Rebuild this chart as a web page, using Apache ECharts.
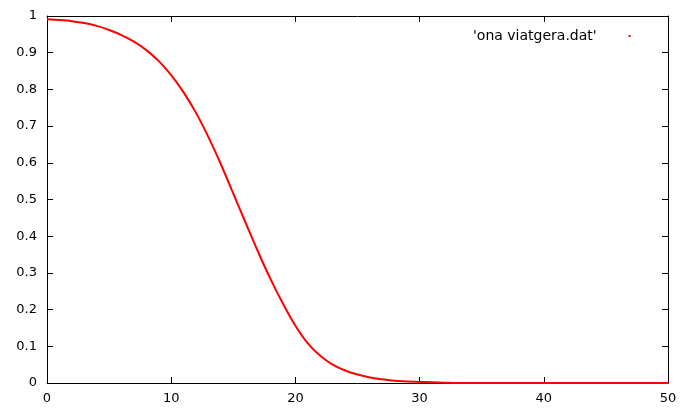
<!DOCTYPE html>
<html>
<head>
<meta charset="utf-8">
<script src="https://cdn.jsdelivr.net/npm/echarts@6/dist/echarts.min.js"></script>
<style>html,body{margin:0;padding:0;background:#fff}#c{width:682px;height:414px}</style>
</head>
<body>
<div id="c"></div>
<script>
var seriesName = "'ona viatgera.dat'";
var xs = [0,1,2,3,4,5,6,7,8,9,10,11,12,13,14,15,16,17,18,19,20,21,22,23,24,25,26,27,28,29,30,31,32,33,34,35,36,37,38,39,40,41,42,43,44,45,46,47,48,49,50];
var ys = [0.991,0.989,0.986,0.981,0.973,0.962,0.948,0.930,0.907,0.877,0.839,0.792,0.736,0.670,0.596,0.516,0.436,0.357,0.283,0.216,0.156,0.108,0.074,0.050,0.034,0.023,0.015,0.010,0.006,0.004,0.003,0.002,0.001,0,0,0,0,0,0,0,0,0,0,0,0,0,0,0,0,0,0];
var xTicks = [0,10,20,30,40,50];
var yTicks = [0,0.1,0.2,0.3,0.4,0.5,0.6,0.7,0.8,0.9,1];

var pts = xs.map(function(x,i){return [x, ys[i]];});
var font = 'DejaVu Sans';
function mk(extra){
  var base = {
    axisLine:{show:true, onZero:false, lineStyle:{color:'#000', width:1}},
    axisTick:{show:true, inside:true, length:6, lineStyle:{color:'#000', width:1}},
    splitLine:{show:false}
  };
  return Object.assign(base, extra);
}

var chart = echarts.init(document.getElementById('c'), null, {renderer:'canvas'});
chart.setOption({
  animation:false,
  backgroundColor:'#fff',
  grid:{left:47, right:14, top:16, bottom:31, show:false},
  legend:{
    show:true, data:[seriesName], left:468, top:24, align:'right',
    itemWidth:2, itemHeight:2, icon:'rect',
    textStyle:{fontFamily:font, fontSize:14, color:'#000', padding:[0,27,0,0]}
  },
  xAxis:[
    mk({type:'value', min:xTicks[0], max:xTicks[xTicks.length-1], interval:10, position:'bottom',
      axisLabel:{fontFamily:font, fontSize:13, color:'#000', margin:9}}),
    mk({type:'value', min:xTicks[0], max:xTicks[xTicks.length-1], interval:10, position:'top',
      axisLabel:{show:false}})
  ],
  yAxis:[
    mk({type:'value', min:yTicks[0], max:yTicks[yTicks.length-1], interval:0.1, position:'left',
      axisLabel:{fontFamily:font, fontSize:13, color:'#000', margin:10,
        formatter:function(v){return String(Math.round(v*10)/10);}}}),
    mk({type:'value', min:yTicks[0], max:yTicks[yTicks.length-1], interval:0.1, position:'right',
      axisLabel:{show:false}})
  ],
  series:[{
    name:seriesName, type:'line', data:pts, xAxisIndex:0, yAxisIndex:0,
    showSymbol:false, symbol:'none', smooth:0.3,
    lineStyle:{color:'#ff0000', width:2},
    itemStyle:{color:'#ff0000'}
  }]
});
</script>
</body>
</html>
